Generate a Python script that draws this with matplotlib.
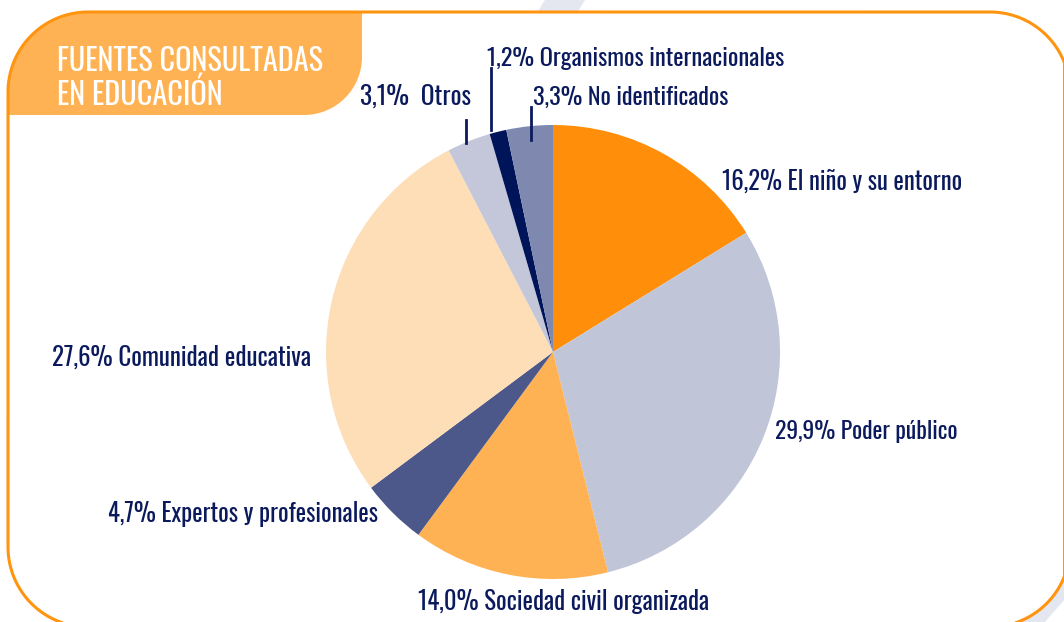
import matplotlib
matplotlib.use("Agg")
import numpy as np
import matplotlib.pyplot as plt
from matplotlib.patches import Polygon, PathPatch
from matplotlib.path import Path
from matplotlib import font_manager

categories = ["El niño y su entorno", "Poder público", "Sociedad civil organizada",
              "Expertos y profesionales", "Comunidad educativa", "Otros",
              "Organismos internacionales", "No identificados"]
values = [16.2, 29.9, 14.0, 4.7, 27.6, 3.1, 1.2, 3.3]
value_labels = ["16,2%", "29,9%", "14,0%", "4,7%", "27,6%", "3,1% ", "1,2%", "3,3%"]
colors = ["#FF8F0A", "#C0C5D8", "#FFB254", "#4C5889", "#FEDEB6", "#C3C7D9", "#00145A", "#7F89AF"]

title_lines = ["FUENTES CONSULTADAS", "EN EDUCACIÓN"]

names = {f.name for f in font_manager.fontManager.ttflist}
pref = ["Futura", "Oswald", "Barlow Condensed", "Roboto Condensed", "Liberation Sans Narrow"]
fam = [f for f in pref if f in names][:1] + ["DejaVu Sans"]
plt.rcParams['font.family'] = fam

W, H = 1064, 622
fig = plt.figure(figsize=(W / 100, H / 100), dpi=100)
ax = fig.add_axes([0, 0, 1, 1])

def rrect_points(x0, y0, x1, y1, r, n=60):
    pts = []
    for cx, cy, a0, a1 in [(x0 + r, y1 - r, 180, 90),   # bottom-left (going up side)
                           (x0 + r, y0 + r, 180, 270),  # top-left
                           (x1 - r, y0 + r, 270, 360),  # top-right
                           (x1 - r, y1 - r, 0, 90)]:    # bottom-right
        t = np.radians(np.linspace(a0, a1, n))
        pts.append(np.column_stack([cx + r * np.cos(t), cy + r * np.sin(t)]))
    bl = pts[0][::-1]  # from bottom point up to left point
    seq = np.vstack([bl, pts[1], pts[2], pts[3]])
    return seq

band = "#E4E6F0"
ax.add_patch(Polygon([(545, 0), (585, 0), (560, 40), (520, 40)], closed=True, fc=band, ec="none", zorder=0))
ax.add_patch(Polygon([(1064, 530), (1064, 600), (1045, 622), (990, 622)], closed=True, fc=band, ec="none", zorder=0))

pts = rrect_points(8, 12, 1070, 627, 80)
# keep only the visible part of the outline (inside the canvas)
vis = pts[(pts[:, 1] <= H + 1) & (pts[:, 0] <= W + 1)]
# the outline runs from bottom-left up, over the top, and down the right side
ax.add_patch(Polygon(vis, closed=True, fc="white", ec="none", zorder=1))

k = 0.5523
R1, R2 = 80, 58
x0, y0, x1, y1 = 8, 12, 362, 115
verts = [(x0, y1), (x0, y0 + R1),
         (x0, y0 + R1 - k * R1), (x0 + R1 - k * R1, y0), (x0 + R1, y0),
         (x1, y0), (x1, y1 - R2),
         (x1, y1 - R2 + k * R2), (x1 - R2 + k * R2, y1), (x1 - R2, y1),
         (x0, y1), (x0, y1)]
codes = [Path.MOVETO, Path.LINETO, Path.CURVE4, Path.CURVE4, Path.CURVE4,
         Path.LINETO, Path.LINETO, Path.CURVE4, Path.CURVE4, Path.CURVE4,
         Path.LINETO, Path.CLOSEPOLY]
ax.add_patch(PathPatch(Path(verts, codes), fc="#FFB254", ec="none", zorder=2))
ax.plot(vis[:, 0], vis[:, 1], color="#FF9410", lw=2.2, zorder=3, solid_capstyle="butt")

ax.pie(values, colors=colors, startangle=-90, counterclock=True,
       center=(553, 352), radius=227, wedgeprops=dict(linewidth=0, zorder=5),
       frame=True)
ax.set_xlim(0, W)
ax.set_ylim(H, 0)
ax.axis("off")

renderer = fig.canvas.get_renderer()

def fit(t, target_w):
    fs = t.get_fontsize()
    w = t.get_window_extent(renderer).width
    t.set_fontsize(fs * target_w / w)

tw = dict(color="white", fontsize=20, ha="left", va="baseline", zorder=4, fontweight="light")
t1 = ax.text(57, 71, title_lines[0], **tw)
t2 = ax.text(57, 105, title_lines[1], **tw)
fit(t1, 265)
t2.set_fontsize(t1.get_fontsize())

txt = "#0B1A5C"
lab = [f"{v} {c}" for v, c in zip(value_labels, categories)]
kw = dict(color=txt, fontsize=16, va="baseline", zorder=6, fontweight="normal")
specs = [(722, 190, "left", 241), (775, 439, "left", 183), (564, 610, "center", 292),
         (378, 522, "right", 271), (311, 366, "right", 259), (471, 105, "right", 111),
         (487, 66, "left", 298), (533, 105, "left", 196)]
for (x, y, ha, w), s in zip(specs, lab):
    t = ax.text(x, y, s, ha=ha, **kw)
    fit(t, w)

ax.plot([466, 466], [120, 143], color=txt, lw=2, zorder=6)
ax.plot([491, 491], [68, 130], color=txt, lw=2, zorder=6)
ax.plot([531, 531], [107, 140], color=txt, lw=2, zorder=6)

fig.savefig("out.png", dpi=100)
